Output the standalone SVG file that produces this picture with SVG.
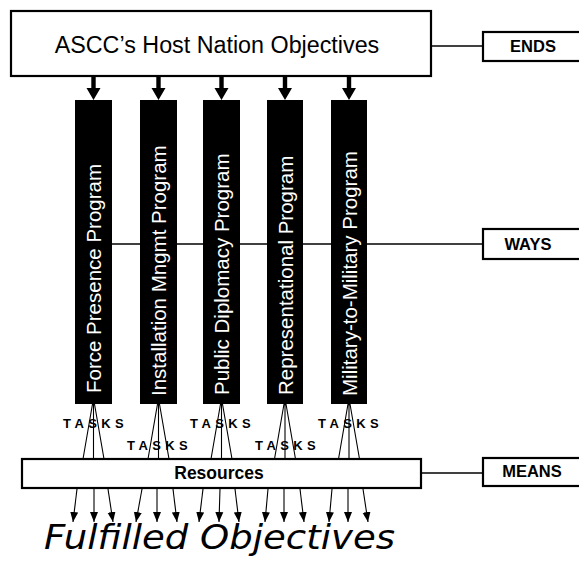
<svg xmlns="http://www.w3.org/2000/svg" width="579" height="567" viewBox="0 0 579 567">
<style>
.box{fill:#fff;stroke:#000;stroke-width:2.2}
.bar{fill:#000}
.conn{stroke:#000;stroke-width:1.6;fill:none}
.thin{stroke:#000;stroke-width:1.1;fill:none}
.lbl{font-family:"Liberation Sans",Arial,sans-serif;font-weight:bold;font-size:16.5px;text-anchor:middle;fill:#000}
.prog{font-family:"Liberation Sans",Arial,sans-serif;font-size:20.5px;fill:#fff}
.tasks{font-family:"Liberation Sans",Arial,sans-serif;font-weight:bold;font-size:13px;letter-spacing:4.4px;fill:#000}
</style>
<defs>
<path id="downArrow" d="M-2.2,0 H2.2 V12 H7 L0,24 L-7,12 H-2.2 Z" fill="#000"/>
<marker id="ah" markerUnits="userSpaceOnUse" markerWidth="10" markerHeight="10" viewBox="0 0 10 10" refX="10" refY="5" orient="auto">
<path d="M0,1 L10,5 L0,9 Z" fill="#000"/>
</marker>
</defs>

<g id="connectors">
<line class="conn" x1="431" y1="46" x2="483" y2="46"/>
<line class="conn" x1="112" y1="244" x2="483" y2="244"/>
<line class="conn" x1="421" y1="473" x2="483" y2="473"/>
<use href="#downArrow" x="93.5" y="76"/>
<use href="#downArrow" x="158.5" y="76"/>
<use href="#downArrow" x="221.5" y="76"/>
<use href="#downArrow" x="285" y="76"/>
<use href="#downArrow" x="349" y="76"/>
<path class="thin" d="M92.5,404 L83,459 M93.5,404 L93.5,459 M94.5,404 L104,459"/>
<path class="thin" d="M157.5,404 L148,459 M158.5,404 L158.5,459 M159.5,404 L169,459"/>
<path class="thin" d="M220.5,404 L211,459 M221.5,404 L221.5,459 M222.5,404 L232,459"/>
<path class="thin" d="M284,404 L274.5,459 M285,404 L285,459 M286,404 L295.5,459"/>
<path class="thin" d="M348,404 L338.5,459 M349,404 L349,459 M350,404 L359.5,459"/>
<g class="thin" marker-end="url(#ah)">
<line x1="77" y1="489" x2="73" y2="522"/>
<line x1="94" y1="489" x2="94" y2="522"/>
<line x1="108" y1="489" x2="113" y2="522"/>
<line x1="142" y1="489" x2="136" y2="522"/>
<line x1="157" y1="489" x2="157" y2="522"/>
<line x1="173" y1="489" x2="177" y2="522"/>
<line x1="203" y1="489" x2="199" y2="522"/>
<line x1="220" y1="489" x2="219" y2="522"/>
<line x1="235" y1="489" x2="239" y2="522"/>
<line x1="268" y1="489" x2="265" y2="522"/>
<line x1="284" y1="489" x2="284" y2="522"/>
<line x1="300" y1="489" x2="304" y2="522"/>
<line x1="332" y1="489" x2="329" y2="522"/>
<line x1="348" y1="489" x2="348" y2="522"/>
<line x1="363" y1="489" x2="368" y2="522"/>
</g>
</g>

<g id="objectives">
<rect class="box" x="11" y="11" width="420" height="65"/>
<text x="217" y="53" font-family="'Liberation Sans',Arial,sans-serif" font-size="23.3" text-anchor="middle">ASCC’s Host Nation Objectives</text>
</g>

<g id="ends"><rect class="box" x="483" y="32" width="110" height="29"/><text class="lbl" x="533" y="52">ENDS</text></g>
<g id="ways"><rect class="box" x="483" y="229" width="110" height="30"/><text class="lbl" x="528" y="250">WAYS</text></g>
<g id="means"><rect class="box" x="483" y="458" width="110" height="28"/><text class="lbl" x="532" y="477">MEANS</text></g>

<g id="prog1"><rect class="bar" x="75" y="100" width="37" height="304"/><text class="prog" transform="translate(101,393) rotate(-90)">Force Presence Program</text></g>
<g id="prog2"><rect class="bar" x="140" y="100" width="37" height="304"/><text class="prog" transform="translate(166,396) rotate(-90)">Installation Mngmt Program</text></g>
<g id="prog3"><rect class="bar" x="203" y="100" width="37" height="304"/><text class="prog" transform="translate(229,395) rotate(-90)">Public Diplomacy Program</text></g>
<g id="prog4"><rect class="bar" x="267" y="100" width="36" height="304"/><text class="prog" transform="translate(292.5,395) rotate(-90)">Representational Program</text></g>
<g id="prog5"><rect class="bar" x="331" y="100" width="36" height="304"/><text class="prog" transform="translate(356.5,396) rotate(-90)">Military-to-Military Program</text></g>

<g id="tasks">
<text class="tasks" x="63" y="428">TASKS</text>
<text class="tasks" x="127" y="450">TASKS</text>
<text class="tasks" x="190" y="428">TASKS</text>
<text class="tasks" x="255" y="450">TASKS</text>
<text class="tasks" x="318" y="428">TASKS</text>
</g>

<g id="resources">
<rect class="box" x="22" y="459" width="399" height="29" stroke-width="2.6"/>
<text x="219" y="479" font-family="'Liberation Sans',Arial,sans-serif" font-weight="bold" font-size="17.5" text-anchor="middle">Resources</text>
</g>

<g id="fulfilled">
<text x="44" y="549" font-family="'DejaVu Sans',Verdana,sans-serif" font-style="italic" font-size="33" textLength="351" lengthAdjust="spacingAndGlyphs">Fulfilled Objectives</text>
</g>
</svg>
